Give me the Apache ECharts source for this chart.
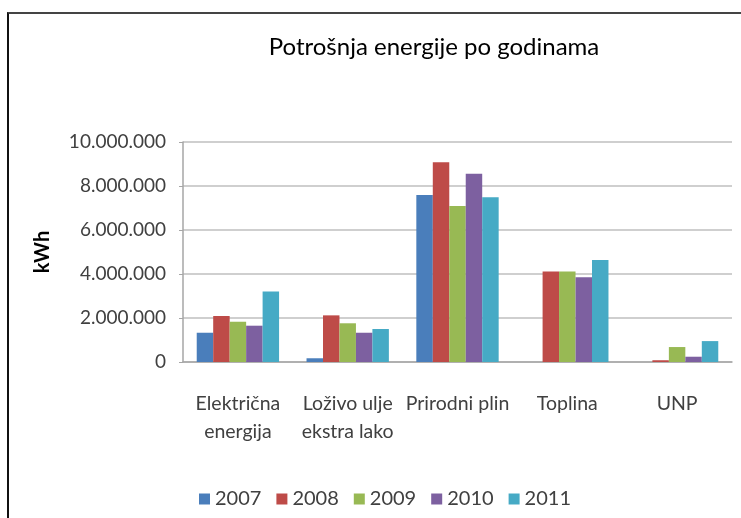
<!DOCTYPE html>
<html>
<head>
<meta charset="utf-8">
<script src="https://cdn.jsdelivr.net/npm/echarts@6/dist/echarts.min.js"></script>
<style>
    * { margin: 0; padding: 0; }
    body { background: #fff; }
    #frame {
        position: absolute; left: 7px; top: 12px; width: 760px; height: 530px;
        border-left: 2px solid #111; border-top: 2px solid #444;
    }
    #chart { position: absolute; left: 0; top: 0; width: 741px; height: 518px; }
</style>
</head>
<body>
<div id="frame"></div>
<div id="chart"></div>
<script>
    var categories = ['Električna\nenergija', 'Loživo ulje\nekstra lako', 'Prirodni plin', 'Toplina', 'UNP'];
    var years = ['2007', '2008', '2009', '2010', '2011'];
    // vrijednosti u kWh, po godinama
    var v2007 = [1330000, 170000, 7590000, 0, 0];
    var v2008 = [2090000, 2120000, 9080000, 4110000, 80000];
    var v2009 = [1830000, 1760000, 7090000, 4110000, 680000];
    var v2010 = [1650000, 1330000, 8560000, 3850000, 240000];
    var v2011 = [3210000, 1500000, 7490000, 4640000, 950000];
    var colors = ['#4a7ebb', '#be4b48', '#98b954', '#7d60a0', '#46aac5'];

    var values = [v2007, v2008, v2009, v2010, v2011];
    var font = 'Lato, "Open Sans", sans-serif';

    var chart = echarts.init(document.getElementById('chart'));
    chart.setOption({
        animation: false,
        color: colors,
        textStyle: { fontFamily: font },
        title: {
            text: 'Potrošnja energije po godinama',
            left: 429, top: 30, textAlign: 'center',
            textStyle: { fontFamily: font, fontSize: 24, fontWeight: 'normal', color: '#000' }
        },
        legend: {
            data: years,
            left: 194, top: 484,
            icon: 'rect', itemWidth: 11, itemHeight: 11, itemGap: 15, itemStyle: { borderWidth: 0 },
            textStyle: { fontFamily: font, fontSize: 20, color: '#404040' }
        },
        grid: { left: 183, right: 9, top: 142, bottom: 156 },
        xAxis: {
            type: 'category',
            data: categories,
            axisLine: { lineStyle: { color: '#a6a6a6', width: 1.5 } },
            axisTick: { show: false },
            axisLabel: {
                interval: 0, margin: 28, lineHeight: 28,
                fontFamily: font, fontSize: 19.5, color: '#404040'
            }
        },
        yAxis: {
            type: 'value',
            min: 0, max: 10000000, interval: 2000000,
            name: 'kWh', nameLocation: 'middle', nameGap: 130, nameRotate: 90,
            nameTextStyle: { fontFamily: font, fontSize: 20, fontWeight: 'bold', color: '#000' },
            axisLine: { show: true, lineStyle: { color: '#a6a6a6', width: 1.5 } },
            axisTick: { show: true, inside: false, length: 4, lineStyle: { color: '#a6a6a6' } },
            splitLine: { lineStyle: { color: '#bfbfbf', width: 1.5 } },
            axisLabel: {
                margin: 17, fontFamily: font, fontSize: 19, color: '#404040',
                formatter: function (v) {
                    return String(v).replace(/\B(?=(\d{3})+(?!\d))/g, '.');
                }
            }
        },
        series: years.map(function (y, i) {
            return {
                name: y,
                type: 'bar',
                data: values[i],
                barGap: '0%',
                barCategoryGap: '25%'
            };
        })
    });
</script>
</body>
</html>
